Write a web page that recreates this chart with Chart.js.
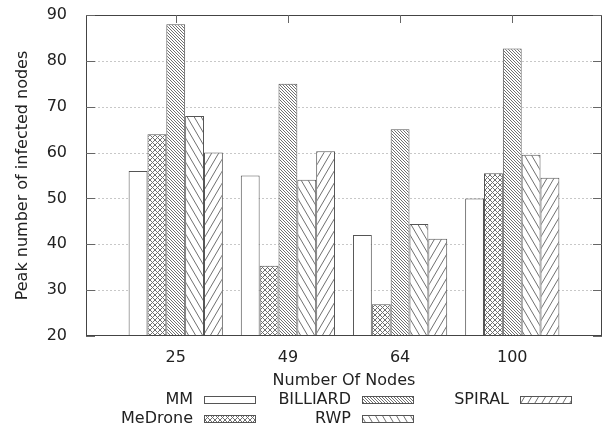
<!DOCTYPE html>
<html>
<head>
<meta charset="utf-8">
<script src="https://cdn.jsdelivr.net/npm/chart.js@4/dist/chart.umd.min.js"></script>
<style>
  html, body { margin: 0; padding: 0; background: #fff; }
  #wrap { width: 606px; height: 429px; }
</style>
</head>
<body>
<div id="wrap"><canvas id="peakChart" width="606" height="429"></canvas></div>
<script>
// Number of nodes per scenario
const nodeCounts = ['25', '49', '64', '100'];

// Peak number of infected nodes, one array per mobility model
const mmValues       = [56.0, 55.0, 42.0, 50.0];
const medroneValues  = [64.0, 35.3, 26.9, 55.5];
const billiardValues = [88.0, 75.0, 65.1, 82.7];
const rwpValues      = [68.0, 54.1, 44.4, 59.5];
const spiralValues   = [60.0, 60.3, 41.2, 54.5];

const yTicks = [20, 30, 40, 50, 60, 70, 80, 90];

const LINE = '#555';
const TEXT = '#222';
const FONT = "'DejaVu Sans', sans-serif";

// hatch fills a la gnuplot
function makeHatch(w, h, kind) {
    const c = document.createElement('canvas');
    c.width = w; c.height = h;
    const g = c.getContext('2d');
    g.fillStyle = '#fff';
    g.fillRect(0, 0, w, h);
    g.strokeStyle = '#707070';
    g.lineWidth = 1;
    const dirs = kind === 'cross' ? ['\\', '/'] : [kind];
    dirs.forEach(d => {
        for (let k = -1; k <= 1; k++) {
            g.beginPath();
            if (d === '\\') {
                g.moveTo(k * w, 0);
                g.lineTo(k * w + w, h);
            } else {
                g.moveTo(k * w, h);
                g.lineTo(k * w + w, 0);
            }
            g.stroke();
        }
    });
    return g.createPattern(c, 'repeat');
}

const ctx = document.getElementById('peakChart').getContext('2d');

const fills = {
    mm: '#fff',
    medrone: makeHatch(5, 5, 'cross'),
    billiard: makeHatch(3, 3, '\\'),
    rwp: makeHatch(7, 12, '\\'),
    spiral: makeHatch(7, 12, '/')
};

const toPoints = arr => arr.map((v, i) => ({ x: i, y: v }));

function mkSet(label, values, fill) {
    return {
        label: label,
        data: toPoints(values),
        backgroundColor: fill,
        borderColor: LINE,
        borderWidth: 1,
        borderSkipped: false,
        categoryPercentage: 0.84,
        barPercentage: 1.0
    };
}

// grid + frame + inward ticks
const framePlugin = {
    id: 'frame',
    beforeDatasetsDraw(chart) {
        const { ctx, chartArea: a, scales } = chart;
        ctx.save();
        ctx.strokeStyle = '#c8c8c8';
        ctx.lineWidth = 1;
        ctx.setLineDash([2, 2]);
        yTicks.forEach(v => {
            if (v === 20 || v === 90) return;
            const y = Math.round(scales.y.getPixelForValue(v)) + 0.5;
            ctx.beginPath();
            ctx.moveTo(a.left, y);
            ctx.lineTo(a.right, y);
            ctx.stroke();
        });
        ctx.restore();
    },
    afterDatasetsDraw(chart) {
        const { ctx, chartArea: a, scales } = chart;
        ctx.save();
        ctx.strokeStyle = '#444';
        ctx.lineWidth = 1;
        ctx.strokeRect(a.left + 0.5, a.top + 0.5, a.right - a.left - 1, a.bottom - a.top - 1);
        ctx.strokeStyle = '#666';
        yTicks.forEach(v => {
            const y = Math.round(scales.y.getPixelForValue(v)) + 0.5;
            ctx.beginPath();
            ctx.moveTo(a.left, y); ctx.lineTo(a.left + 9, y);
            ctx.moveTo(a.right, y); ctx.lineTo(a.right - 9, y);
            ctx.stroke();
        });
        nodeCounts.forEach((_, i) => {
            const x = Math.round(scales.x.getPixelForValue(i)) + 0.5;
            ctx.beginPath();
            ctx.moveTo(x, a.top); ctx.lineTo(x, a.top + 8);
            ctx.stroke();
        });
        ctx.restore();
    }
};

// gnuplot style key below the plot
const keyPlugin = {
    id: 'gnuKey',
    afterDraw(chart) {
        const { ctx } = chart;
        const slots = [
            { tx: 193, y: 400 }, { tx: 193, y: 419 },
            { tx: 351, y: 400 }, { tx: 351, y: 419 },
            { tx: 509, y: 400 }
        ];
        ctx.save();
        ctx.font = '16px ' + FONT;
        ctx.textAlign = 'right';
        ctx.textBaseline = 'middle';
        chart.data.datasets.forEach((ds, i) => {
            const s = slots[i];
            ctx.fillStyle = TEXT;
            ctx.fillText(ds.label, s.tx, s.y);
            const bx = s.tx + 11, by = s.y - 4;
            ctx.fillStyle = ds.backgroundColor;
            ctx.fillRect(bx, by, 52, 8);
            ctx.strokeStyle = LINE;
            ctx.lineWidth = 1;
            ctx.strokeRect(bx + 0.5, by + 0.5, 51, 7);
        });
        ctx.restore();
    }
};

new Chart(ctx, {
    type: 'bar',
    data: {
        datasets: [
            mkSet('MM', mmValues, fills.mm),
            mkSet('MeDrone', medroneValues, fills.medrone),
            mkSet('BILLIARD', billiardValues, fills.billiard),
            mkSet('RWP', rwpValues, fills.rwp),
            mkSet('SPIRAL', spiralValues, fills.spiral)
        ]
    },
    options: {
        responsive: false,
        devicePixelRatio: 1,
        animation: false,
        layout: { padding: { left: 9, top: 15, right: 4, bottom: 35 } },
        scales: {
            x: {
                type: 'linear',
                min: -0.8,
                max: 3.8,
                offset: false,
                grid: { display: false },
                border: { display: false },
                afterBuildTicks: scale => {
                    scale.ticks = nodeCounts.map((_, i) => ({ value: i }));
                },
                afterFit: scale => {
                    scale.height = 58;
                    scale.paddingLeft = 0;
                    scale.paddingRight = 0;
                },
                ticks: {
                    color: TEXT,
                    font: { family: FONT, size: 16 },
                    padding: 4,
                    maxRotation: 0,
                    callback: v => nodeCounts[v]
                },
                title: {
                    display: true,
                    text: 'Number Of Nodes',
                    color: TEXT,
                    font: { family: FONT, size: 16 }
                }
            },
            y: {
                min: 20,
                max: 90,
                grid: { display: false },
                border: { display: false },
                afterBuildTicks: scale => {
                    scale.ticks = yTicks.map(v => ({ value: v }));
                },
                afterFit: scale => {
                    scale.width = 77;
                    scale.paddingTop = 0;
                    scale.paddingBottom = 0;
                },
                ticks: {
                    color: TEXT,
                    font: { family: FONT, size: 16 },
                    padding: 11
                },
                title: {
                    display: true,
                    text: 'Peak number of infected nodes',
                    color: TEXT,
                    font: { family: FONT, size: 16 }
                }
            }
        },
        plugins: {
            legend: { display: false },
            tooltip: { enabled: false }
        }
    },
    plugins: [framePlugin, keyPlugin]
});
</script>
</body>
</html>
